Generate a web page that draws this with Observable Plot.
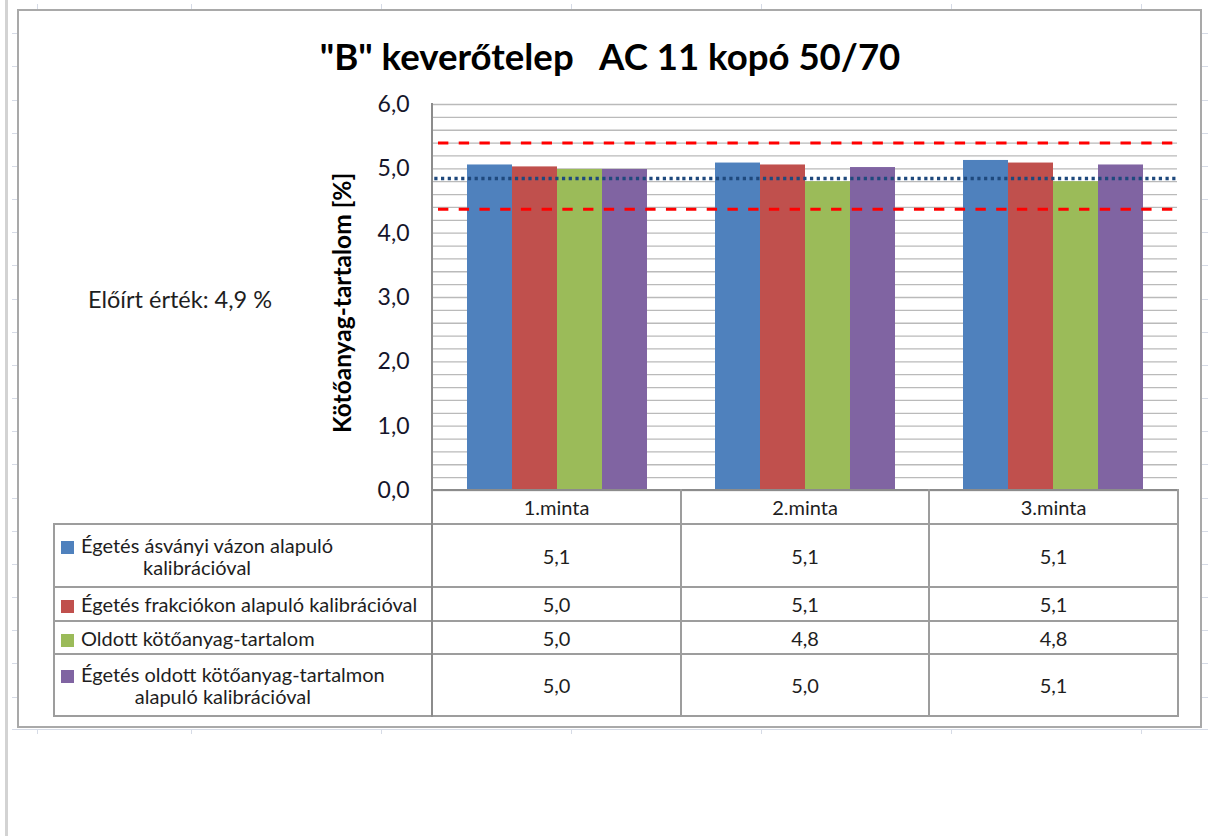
<!DOCTYPE html>
<html>
<head>
<meta charset="utf-8">
<script src="https://cdn.jsdelivr.net/npm/d3@7"></script>
<script src="https://cdn.jsdelivr.net/npm/@observablehq/plot@0.6"></script>
<style>
  html, body { margin: 0; padding: 0; background: #fff; }
  #root { position: relative; width: 1208px; height: 836px; overflow: hidden; background: #fff; font-family: Lato, "Open Sans", sans-serif; color: #1e1e1e; }
  .abs { position: absolute; }
  .hl, .vl { position: absolute; background: #9d9d9d; }
  .cell { position: absolute; display: flex; align-items: center; justify-content: center; font-size: 20px; }
  .leg { position: absolute; display: flex; align-items: center; font-size: 20px; }
  .leg > div { display: inline-block; text-align: center; line-height: 22px; white-space: nowrap; }
  .sw { display: inline-block; width: 13px; height: 13px; margin-right: 7px; vertical-align: -1px; }
  .deco { position: absolute; background: #d6dbe6; }
</style>
</head>
<body>
<div id="root"></div>
<script>
// ---------- data ----------
const samples = ["1.minta", "2.minta", "3.minta"];
const seriesLines = [
  ["Égetés ásványi vázon alapuló", "kalibrációval"],
  ["Égetés frakciókon alapuló kalibrációval"],
  ["Oldott kötőanyag-tartalom"],
  ["Égetés oldott kötőanyag-tartalmon", "alapuló kalibrációval"]
];
const series = seriesLines.map(l => l.join(" "));
const colors = ["#4F81BD", "#C0504D", "#9BBB59", "#8064A2"];
const valuesAsvanyi = [5.06, 5.09, 5.13];
const valuesFrakcio = [5.03, 5.06, 5.09];
const valuesOldott = [4.99, 4.80, 4.80];
const valuesOldottKalib = [4.99, 5.02, 5.06];
const seriesValues = [valuesAsvanyi, valuesFrakcio, valuesOldott, valuesOldottKalib];
const targetValue = 4.85;      // dotted line
const upperLimit = 5.4;        // red dashed
const lowerLimit = 4.37;       // red dashed
const yTicks = [0, 1, 2, 3, 4, 5, 6];
const title = "\"B\" keverőtelep\u00a0\u00a0 AC 11 kopó 50/70";
const yLabel = "Kötőanyag-tartalom [%]";
const noteText = "Előírt érték: 4,9 %";

const fmt = d => d.toFixed(1).replace(".", ",");
const data = samples.flatMap((s, i) => series.map((k, j) => ({sample: s, series: k, value: seriesValues[j][i]})));
const gridValues = d3.range(0, 31).map(i => i / 5);

const root = document.getElementById("root");
function add(cls, css, html) {
  const d = document.createElement("div");
  d.className = cls;
  Object.assign(d.style, css);
  if (html !== undefined) d.innerHTML = html;
  root.appendChild(d);
  return d;
}

// spreadsheet background decorations
add("abs", {left: "5px", top: "0px", width: "3px", height: "836px", background: "#d3d3d3"});
for (let k = 1; k <= 21; k++) {
  const y = Math.round(k * 33.17);
  add("deco", {left: "12px", top: y + "px", width: "6px", height: "1px"});
  add("deco", {left: "1202px", top: y + "px", width: "6px", height: "1px"});
}
add("deco", {left: "12px", top: "729px", width: "1196px", height: "1px"});
[37, 191, 381, 571, 761, 951, 1141].forEach(x => {
  add("deco", {left: x + "px", top: "4px", width: "1px", height: "6px"});
  add("deco", {left: x + "px", top: "729px", width: "1px", height: "5px"});
});

// chart border
add("abs", {left: "17px", top: "9px", width: "1181px", height: "715px", border: "2px solid #a9a9a9"});

// plot
const W = 1208, ML = 432, MR = 30;
const facetW = (W - ML - MR) / samples.length;
const dash = facetW / 24;   // keeps dash pattern continuous across facets
const dot = facetW / 37;
const chart = Plot.plot({
  width: W,
  height: 836,
  marginLeft: ML,
  marginRight: MR,
  marginTop: 104,
  marginBottom: 346,
  style: {fontFamily: "Lato, sans-serif", fontSize: "23px", color: "#15152a", background: "transparent"},
  fx: {domain: samples, padding: 0, axis: null},
  x: {domain: series, paddingInner: 0, paddingOuter: 0.733, axis: null},
  y: {domain: [0, 6], ticks: yTicks, tickFormat: fmt, tickSize: 0, tickPadding: 24, label: null},
  color: {domain: series, range: colors},
  marks: [
    Plot.ruleY(gridValues, {stroke: "#bababa", strokeWidth: 1.3}),
    Plot.barY(data, {fx: "sample", x: "series", y: "value", fill: "series"}),
    Plot.ruleY([upperLimit, lowerLimit], {stroke: "#ff0000", strokeWidth: 3, strokeDasharray: `${dash},${dash}`, strokeDashoffset: -5}),
    Plot.ruleY([targetValue], {stroke: "#1F497D", strokeWidth: 3.4, strokeDasharray: `${dot * 0.48},${dot * 0.52}`, strokeDashoffset: -8})
  ]
});
chart.style.position = "absolute";
chart.style.left = "0px";
chart.style.top = "0px";
root.appendChild(chart);

// title, labels
add("abs", {left: "18px", top: "34px", width: "1184px", textAlign: "center", fontSize: "36.6px", fontWeight: "bold", color: "#000", whiteSpace: "nowrap"}, title);
add("abs", {left: "341px", top: "303px", transform: "translate(-50%,-50%) rotate(-90deg)", fontSize: "24.5px", fontWeight: "bold", color: "#000", whiteSpace: "nowrap"}, yLabel);
add("abs", {left: "88px", top: "285px", fontSize: "23.5px", whiteSpace: "nowrap"}, noteText);

// data table
const colX = [54, 432, 681, 929, 1178];
const rowY = [490, 524, 587, 621, 654, 716];
const lw = 2;
// horizontal lines
add("hl", {left: (432 - 1) + "px", top: (490 - 1) + "px", width: (1178 - 432 + 2) + "px", height: lw + "px", background: "#8c8c8c"});
rowY.slice(1).forEach(y => add("hl", {left: (54 - 1) + "px", top: (y - 1) + "px", width: (1178 - 54 + 2) + "px", height: lw + "px"}));
// vertical lines
add("vl", {left: (54 - 1) + "px", top: (524 - 1) + "px", width: lw + "px", height: (716 - 524 + 2) + "px"});
add("vl", {left: (432 - 1) + "px", top: (104 - 1) + "px", width: lw + "px", height: (716 - 104 + 2) + "px", background: "#8c8c8c"});
colX.slice(2).forEach(x => add("vl", {left: (x - 1) + "px", top: (490 - 1) + "px", width: lw + "px", height: (716 - 490 + 2) + "px"}));

// header
samples.forEach((s, i) => add("cell", {left: colX[i + 1] + "px", top: rowY[0] + "px", width: (colX[i + 2] - colX[i + 1]) + "px", height: (rowY[1] - rowY[0]) + "px"}, s));
// rows
series.forEach((k, j) => {
  const top = rowY[j + 1], h = rowY[j + 2] - rowY[j + 1];
  const lines = seriesLines[j].slice();
  const html = `<div><span class="sw" style="background:${colors[j]}"></span>${lines[0]}${lines.slice(1).map(l => "<br>" + l).join("")}</div>`;
  add("leg", {left: "61px", top: top + "px", width: "368px", height: h + "px"}, html);
  samples.forEach((s, i) => add("cell", {left: colX[i + 1] + "px", top: top + "px", width: (colX[i + 2] - colX[i + 1]) + "px", height: h + "px"}, fmt(seriesValues[j][i])));
});
</script>
</body>
</html>
